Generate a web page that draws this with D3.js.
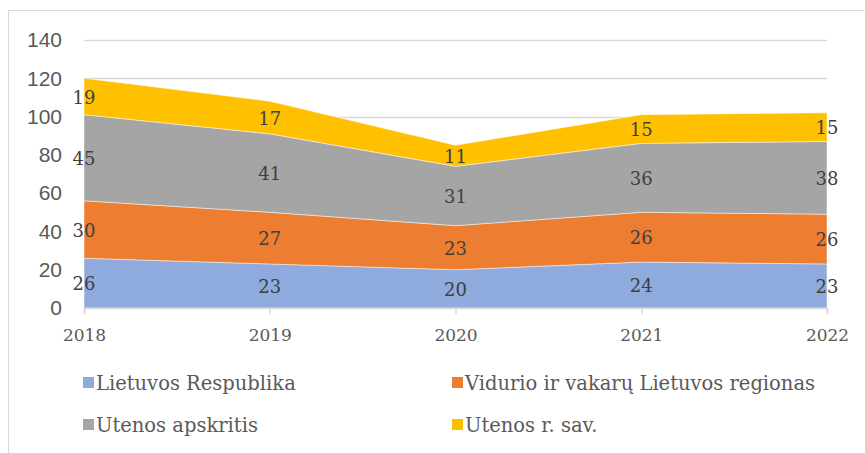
<!DOCTYPE html>
<html>
<head>
<meta charset="utf-8">
<script src="https://cdn.jsdelivr.net/npm/d3@7"></script>
<style>
  body { margin: 0; background: #fff; }
  svg { display: block; }
</style>
</head>
<body>
<div id="chart"></div>
<script>
// Data
const years = ['2018', '2019', '2020', '2021', '2022'];
const seriesNames = ['Lietuvos Respublika', 'Vidurio ir vakarų Lietuvos regionas', 'Utenos apskritis', 'Utenos r. sav.'];
const lietuvosRespublika = [26, 23, 20, 24, 23];
const viduriovakaru = [30, 27, 23, 26, 26];
const utenosApskritis = [45, 41, 31, 36, 38];
const utenosRSav = [19, 17, 11, 15, 15];
const yTicks = [0, 20, 40, 60, 80, 100, 120, 140];
const colors = ['#8FAADC', '#ED7D31', '#A5A5A5', '#FFC000'];

const serif = "'DejaVu Serif', serif";
const sans = "'Liberation Sans', Arial, sans-serif";

const W = 865, H = 453;
const margin = { top: 40, left: 84, right: 38, bottom: 145 };
const width = W - margin.left - margin.right;
const height = H - margin.top - margin.bottom;

const svg = d3.select('#chart').append('svg')
    .attr('width', W)
    .attr('height', H);

// Chart border
svg.append('rect')
    .attr('x', 8.5).attr('y', 10.5)
    .attr('width', W).attr('height', H)
    .attr('fill', 'none')
    .attr('stroke', '#d9d9d9');

const g = svg.append('g')
    .attr('transform', `translate(${margin.left},${margin.top})`);

const x = d3.scalePoint().domain(years).range([0, width]);
const y = d3.scaleLinear().domain([0, 140]).range([height, 0]);

// Gridlines
g.selectAll('.grid')
    .data(yTicks.filter(d => d > 0))
    .enter().append('line')
    .attr('x1', 0).attr('x2', width)
    .attr('y1', d => Math.round(y(d)) + 0.5)
    .attr('y2', d => Math.round(y(d)) + 0.5)
    .attr('stroke', '#d9d9d9')
    .attr('stroke-width', 1.5);

// Stack
const table = years.map((yr, i) => ({
    year: yr,
    s0: lietuvosRespublika[i],
    s1: viduriovakaru[i],
    s2: utenosApskritis[i],
    s3: utenosRSav[i]
}));
const stack = d3.stack().keys(['s0', 's1', 's2', 's3']);
const layers = stack(table);

const area = d3.area()
    .x(d => x(d.data.year))
    .y0(d => y(d[0]))
    .y1(d => y(d[1]));

g.selectAll('.layer')
    .data(layers)
    .enter().append('path')
    .attr('d', area)
    .attr('fill', (d, i) => colors[i])
    .attr('stroke', 'rgba(255,255,255,0.6)')
    .attr('stroke-width', 0.8);

// Data labels
layers.forEach(layer => {
    g.selectAll(null)
        .data(layer)
        .enter().append('text')
        .attr('x', d => x(d.data.year))
        .attr('y', d => y((d[0] + d[1]) / 2) + 1)
        .attr('dy', '0.35em')
        .attr('text-anchor', 'middle')
        .style('font-family', serif)
        .style('font-size', '18px')
        .attr('fill', '#404040')
        .text(d => d[1] - d[0]);
});

// X axis
const xAxis = g.append('g')
    .attr('transform', `translate(0,${height})`)
    .call(d3.axisBottom(x).tickSize(6).tickPadding(15));
xAxis.select('.domain').attr('stroke', '#d9d9d9').attr('stroke-width', 1.5);
xAxis.selectAll('.tick line').attr('stroke', '#d9d9d9').attr('stroke-width', 1.5);
xAxis.selectAll('text')
    .style('font-family', serif)
    .style('font-size', '17px')
    .attr('fill', '#595959');

// Y axis labels
const yAxis = g.append('g')
    .call(d3.axisLeft(y).tickValues(yTicks).tickSize(0).tickPadding(22));
yAxis.select('.domain').remove();
yAxis.selectAll('text')
    .style('font-family', sans)
    .style('font-size', '21px')
    .attr('fill', '#595959');

// Legend
const legendPos = [[83, 383], [452, 383], [83, 425], [452, 425]];
const legend = svg.selectAll('.legend')
    .data(seriesNames)
    .enter().append('g')
    .attr('transform', (d, i) => `translate(${legendPos[i][0]},${legendPos[i][1]})`);
legend.append('rect')
    .attr('x', 0).attr('y', -6)
    .attr('width', 11).attr('height', 11)
    .attr('fill', (d, i) => colors[i]);
legend.append('text')
    .attr('x', 13).attr('y', 0)
    .attr('dy', '0.35em')
    .style('font-family', serif)
    .style('font-size', '19.5px')
    .attr('fill', '#595959')
    .text(d => d);
</script>
</body>
</html>
